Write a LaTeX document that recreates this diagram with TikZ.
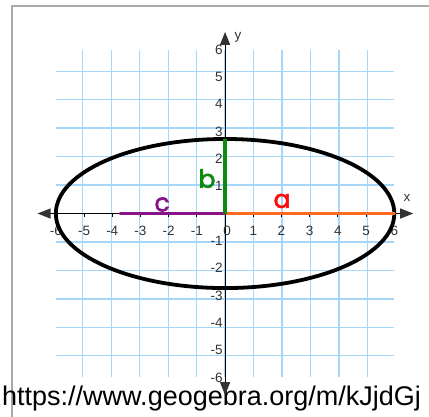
\documentclass[tikz,border=0pt]{standalone}
\usepackage{fontspec}
\setmainfont{Liberation Sans}
\newfontfamily\letra[FakeBold=2.5]{Poppins}
\usetikzlibrary{arrows.meta}

\definecolor{cuadricula}{HTML}{A6D6FA}
\definecolor{marco}{HTML}{AAAAAA}
\definecolor{gris}{HTML}{333333}
\definecolor{naranja}{HTML}{FF6A21}
\definecolor{morado}{HTML}{87128A}
\definecolor{verde}{HTML}{0E8A0E}
\definecolor{rojo}{HTML}{FF0A0A}

\tikzset{
  eje/.style={line width=1.1pt,
    {Triangle[length=13pt,width=10pt,color=gris]}-{Triangle[length=13pt,width=10pt,color=gris]}},
  num/.style={gris,inner sep=0pt,font=\fontsize{13.5}{15}\selectfont},
  letrero/.style={inner sep=0pt,font=\letra\fontsize{25}{28}\selectfont},
  segmento/.style={line width=3.4pt,line cap=round}
}

\begin{document}
\begin{tikzpicture}[x=28.2pt,y=27.3pt]

\useasboundingbox (-7.98,-7.45) rectangle (7.23,7.82);
\fill[white] (-7.98,-7.45) rectangle (7.23,7.82);

\draw[marco,line width=1.5pt] (-7.55,-7.45) -- (-7.55,7.60) -- (7.23,7.60); % marco

\draw[cuadricula,line width=1.3pt] (-6,-6) grid (6,6);

\coordinate (O) at (0,0);
\coordinate (xizq) at (-6.65,0);
\coordinate (xder) at (6.67,0);
\coordinate (yarr) at (0,6.65);
\coordinate (yab) at (0,-6.65);

\node[anchor=base west,inner sep=0pt,font=\fontsize{27}{30}\selectfont] (url) at (-7.91,-7.02)
  {https://www.geogebra.org/m/kJjdGj};

\draw[eje] (xizq) -- (xder); % eje x
\draw[eje] (yab) -- (yarr);  % eje y

\foreach \i in {-6,...,6}
  \draw[line width=0.8pt] (\i,0) -- (\i,-0.12);

\foreach \i in {-6,...,-1,1,2,3,4,5,6}
  \node[num] (xl\i) at (\i,-0.63) {\i};
\node[num] (xl0) at (0.07,-0.63) {0};

\foreach \j in {-6,...,-1,1,2,3,4,5,6}
  \node[num,anchor=east] (yl\j) at (-0.08,\j) {\j};

\node[num] (xlab) at (6.45,0.57) {x};
\node[num] (ylab) at (0.46,6.45) {y};

\draw[line width=3.8pt] (O) ellipse [x radius=6,y radius=2.73]; % elipse

\coordinate (A) at (6,0);
\coordinate (B) at (0,2.73);
\coordinate (C) at (-3.72,0);

\draw[segmento,naranja] (O) -- (A); % a
\draw[segmento,morado] (C) -- (O);  % c
\draw[segmento,verde,line cap=butt] (O) -- (B); % b

\node[letrero,rojo] (la) at (2.02,0.46) {a};
\node[letrero,verde] (lb) at (-0.64,1.28) {b};
\node[letrero,morado] (lc) at (-2.23,0.33) {c};

\end{tikzpicture}
\end{document}
